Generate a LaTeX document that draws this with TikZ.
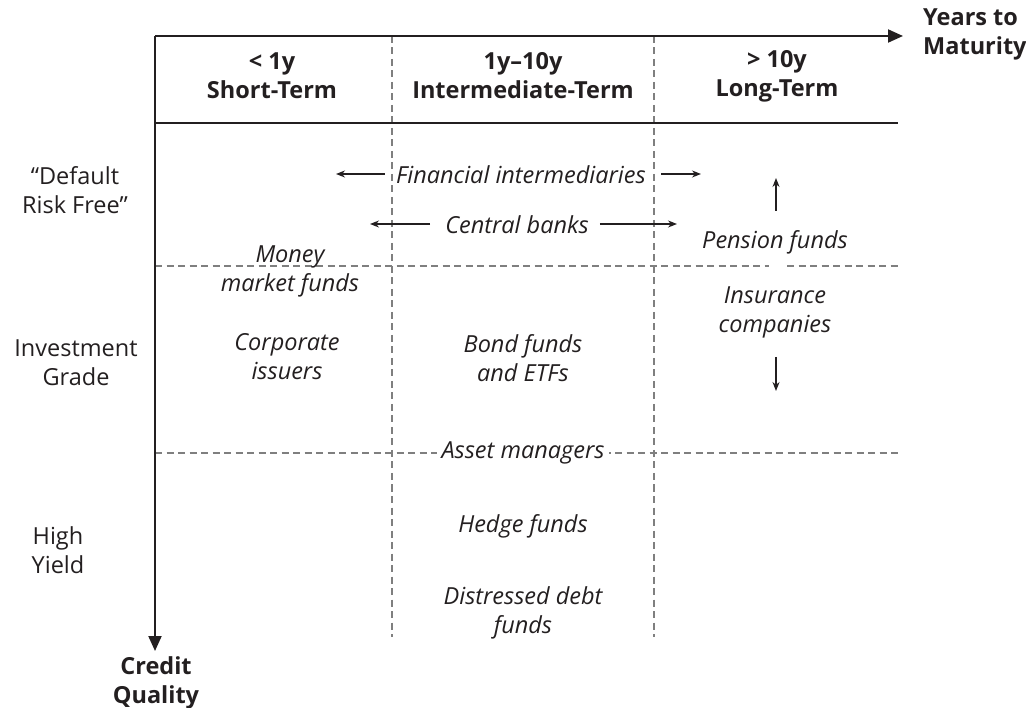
\documentclass[tikz,border=0pt]{standalone}
\usepackage{fontspec}
\setmainfont{Open Sans}
\usetikzlibrary{arrows.meta}
\definecolor{ink}{HTML}{231F20}
\definecolor{dash}{HTML}{7F7F7F}
\tikzset{
  lbl/.style={font=\fontsize{23.5}{29}\selectfont, text=ink, align=center, inner sep=1pt},
  ent/.style={lbl, font=\fontsize{23.5}{29}\selectfont\itshape},
  hdr/.style={lbl, font=\fontsize{23.5}{29}\selectfont\bfseries},
  axisline/.style={draw=ink, line width=2pt, -{Triangle[length=15pt,width=13pt]}},
  rule/.style={draw=ink, line width=1.8pt},
  grid/.style={draw=dash, line width=1.3pt, dash pattern=on 7pt off 4.5pt},
  small/.style={draw=ink, line width=1.4pt, -{Stealth[length=9pt,width=7pt]}}
}
\begin{document}
\begin{tikzpicture}[x=1pt,y=-1pt]
\useasboundingbox (0,0) rectangle (1026,708);
% grid lines
\coordinate (O) at (155,36);
\coordinate (xend) at (903,36);
\coordinate (yend) at (155,651);
\coordinate (v1t) at (392,36);
\coordinate (v1b) at (392,637);
\coordinate (v2t) at (654,36);
\coordinate (v2b) at (654,637);
\coordinate (h1l) at (155,266);
\coordinate (h1m) at (769,266);
\coordinate (h1n) at (787,266);
\coordinate (h1r) at (898,266);
\coordinate (h2l) at (155,453);
\coordinate (h2r) at (898,453);
\coordinate (hdl) at (155,123);
\coordinate (hdr) at (898,123);
\draw[grid] (v1t) -- (v1b);
\draw[grid] (v2t) -- (v2b);
\draw[grid] (h1l) -- (h1m);
\draw[grid] (h1n) -- (h1r);
\draw[grid] (h2l) -- (h2r);
\draw[rule] (hdl) -- (hdr);
\draw[axisline] (O) -- (xend);
\draw[axisline] (O) -- (yend);
% axis titles
\node[hdr, anchor=west, align=left] (xt) at (922,34) {Years to\\Maturity};
\node[hdr] (yt) at (156,683) {Credit\\Quality};
% headers
\node[hdr] (c1) at (272,76) {< 1y\\Short-Term};
\node[hdr] (c2) at (523,76) {1y–10y\\Intermediate-Term};
\node[hdr] (c3) at (777,76) {> 10y\\Long-Term};
% row labels
\node[lbl] (r1) at (75,190) {“Default\\Risk Free”};
\node[lbl] (r2) at (76,363) {Investment\\Grade};
\node[lbl] (r3) at (58,550) {High\\Yield};
% entries
\node[ent] (fi) at (521,175) {Financial intermediaries};
\node[ent] (cb) at (517,225) {Central banks};
\node[ent] (pf) at (775,242) {Pension funds};
\node[ent] (mm) at (290,271) {Money\\market funds};
\node[ent] (ic) at (775,312) {Insurance\\companies};
\node[ent] (ci) at (287,357) {Corporate\\issuers};
\node[ent] (bf) at (523,358) {Bond funds\\and ETFs};
\node[ent, fill=white, inner xsep=5pt, inner ysep=0pt] (am) at (523,453) {Asset managers};
\node[ent] (hf) at (523,526) {Hedge funds};
\node[ent] (dd) at (523,613) {Distressed debt\\funds};
% small arrows
\coordinate (fiL) at (336,174);
\coordinate (fiR) at (701,174);
\coordinate (cbL) at (370,224);
\coordinate (cbR) at (677,224);
\coordinate (pfA) at (776,211);
\coordinate (pfU) at (776,178);
\coordinate (icA) at (776,357);
\coordinate (icD) at (776,391);
\draw[small] (fi.west |- fiL) ++(-10pt,0) -- (fiL);
\draw[small] (fi.east |- fiR) ++(14pt,0) -- (fiR);
\draw[small] (cb.west |- cbL) ++(-14pt,0) -- (cbL);
\draw[small] (cb.east |- cbR) ++(10pt,0) -- (cbR);
\draw[small] (pfA) -- (pfU);
\draw[small] (icA) -- (icD);
\end{tikzpicture}
\end{document}
